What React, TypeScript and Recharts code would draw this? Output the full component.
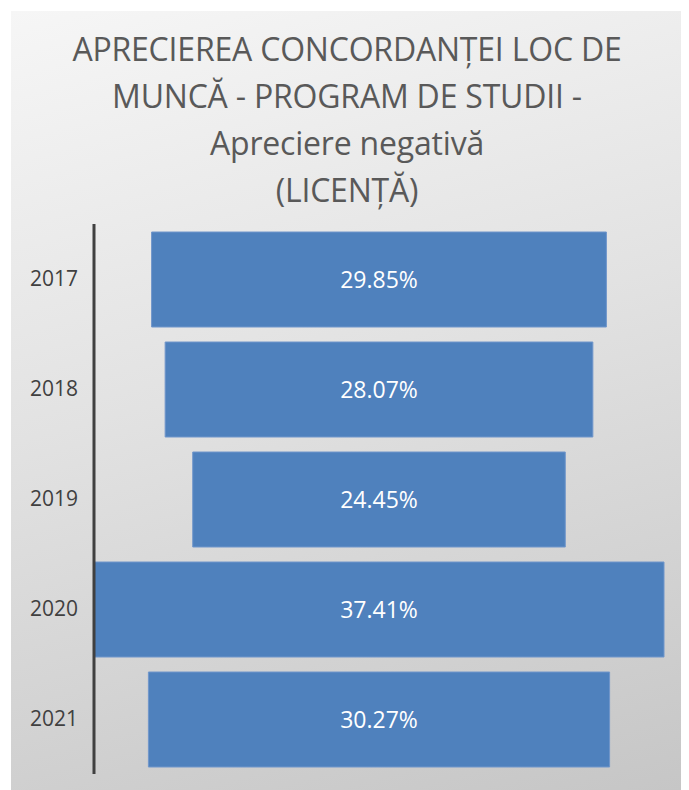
import React from 'react';
import { BarChart, Bar, XAxis, YAxis, LabelList } from 'recharts';

const years = ['2017', '2018', '2019', '2020', '2021'];
const negativeShare = [29.85, 28.07, 24.45, 37.41, 30.27];

const titleLines = [
  'APRECIEREA CONCORDANȚEI LOC DE',
  'MUNCĂ - PROGRAM DE STUDII -',
  'Apreciere negativă',
  '(LICENȚĂ)',
];

const FONT = '"Open Sans", "Noto Sans", sans-serif';
const maxShare = Math.max(...negativeShare);

// funnel look: an invisible spacer pushes each bar so they sit centred
const data = years.map((year, i) => ({
  year,
  pad: (maxShare - negativeShare[i]) / 2,
  value: negativeShare[i],
}));

const App = () => {
  return (
    <div
      style={{
        position: 'relative',
        width: 672,
        height: 779,
        marginLeft: 3,
        marginTop: 3,
        background: 'linear-gradient(165deg, #f6f6f6 0%, #e2e2e2 45%, #c6c6c6 100%)',
        fontFamily: FONT,
      }}
    >
      <div
        style={{
          position: 'absolute',
          top: 14,
          left: 0,
          width: 672,
          textAlign: 'center',
          color: '#595959',
          fontSize: 32,
          lineHeight: '47px',
          letterSpacing: -0.2,
        }}
      >
        {titleLines.map((line) => (
          <div key={line}>{line}</div>
        ))}
      </div>
      <BarChart
        width={672}
        height={779}
        layout="vertical"
        data={data}
        margin={{ top: 213, right: 19, bottom: 16, left: 0 }}
        style={{ position: 'absolute', top: 0, left: 0 }}
      >
        <XAxis type="number" hide domain={[0, maxShare]} />
        <YAxis
          type="category"
          dataKey="year"
          width={83}
          tickLine={false}
          tickSize={0}
          tickMargin={16}
          axisLine={{ stroke: '#404040', strokeWidth: 3 }}
          tick={{ fill: '#404040', fontSize: 21, fontFamily: FONT }}
        />
        <Bar dataKey="pad" stackId="f" fill="transparent" barSize={95} isAnimationActive={false} />
        <Bar
          dataKey="value"
          stackId="f"
          fill="#4F81BD"
          stroke="#7096CB"
          strokeWidth={1}
          barSize={95}
          isAnimationActive={false}
        >
          <LabelList
            dataKey="value"
            position="center"
            fill="#ffffff"
            fontSize={23}
            fontFamily={FONT}
            formatter={(v: any) => `${Number(v).toFixed(2)}%`}
          />
        </Bar>
      </BarChart>
    </div>
  );
};

export default App;
